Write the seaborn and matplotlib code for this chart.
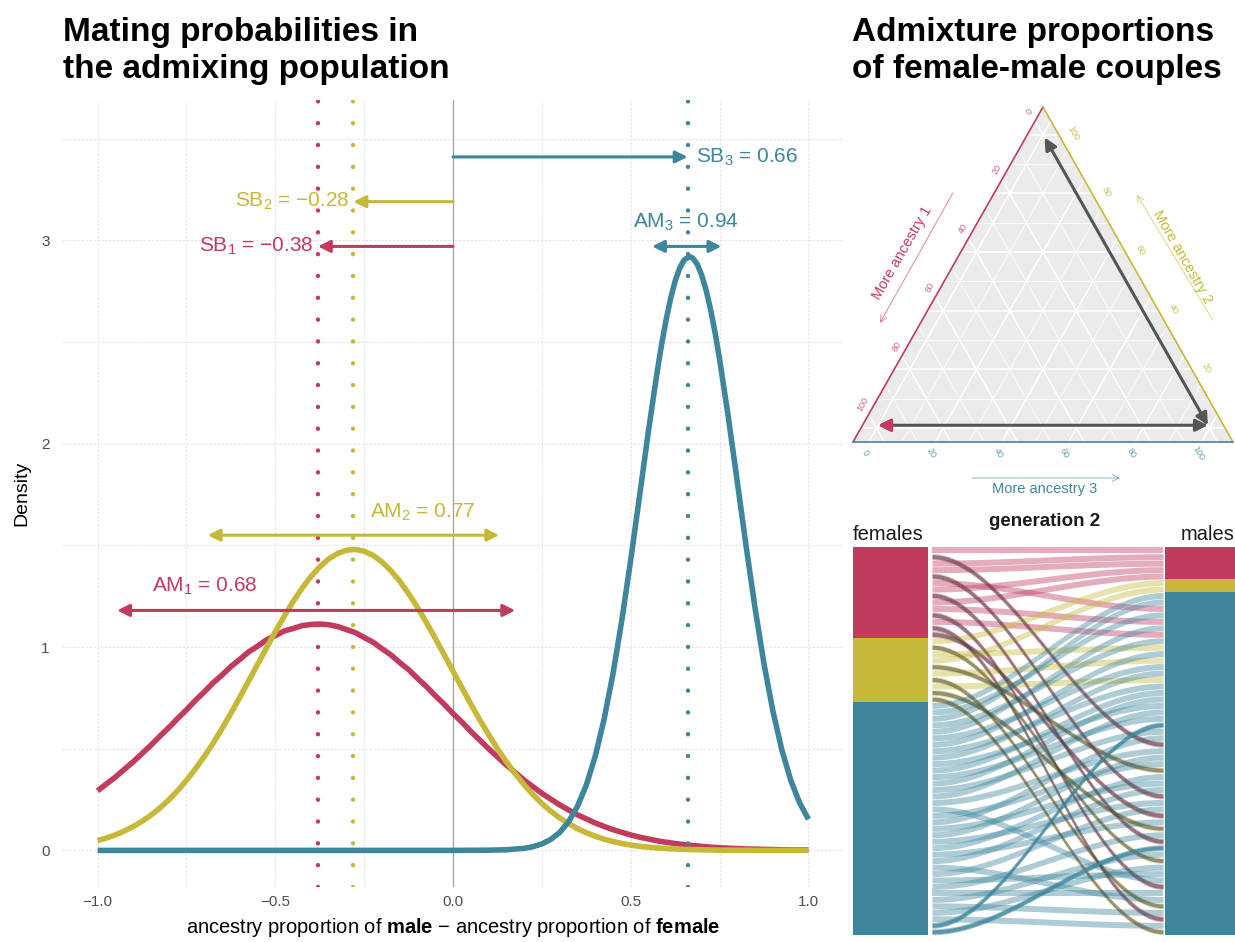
"""
Mating probabilities (densities), ternary admixture plot and alluvial couples plot.
"""

import numpy as np
import matplotlib
matplotlib.use("Agg")
import matplotlib.pyplot as plt
import seaborn as sns

W, H = 1235, 942
RED = "#c13b5e"
YELLOW = "#c8b83a"
TEAL = "#3e869c"
DARK = "#555555"

# --- left panel: densities ---
x_grid = [-1.0, -0.975, -0.95, -0.925, -0.9, -0.875, -0.85, -0.825, -0.8, -0.775,
          -0.75, -0.725, -0.7, -0.675, -0.65, -0.625, -0.6, -0.575, -0.55, -0.525,
          -0.5, -0.475, -0.45, -0.425, -0.4, -0.375, -0.35, -0.325, -0.3, -0.275,
          -0.25, -0.225, -0.2, -0.175, -0.15, -0.125, -0.1, -0.075, -0.05, -0.025,
          0.0, 0.025, 0.05, 0.075, 0.1, 0.125, 0.15, 0.175, 0.2, 0.225,
          0.25, 0.275, 0.3, 0.325, 0.35, 0.375, 0.4, 0.425, 0.45, 0.475,
          0.5, 0.525, 0.55, 0.575, 0.6, 0.625, 0.65, 0.675, 0.7, 0.725,
          0.75, 0.775, 0.8, 0.825, 0.85, 0.875, 0.9, 0.925, 0.95, 0.975, 1.0]
red_density = [0.293, 0.327, 0.360, 0.398, 0.435, 0.476, 0.517, 0.561, 0.603, 0.648,
               0.691, 0.737, 0.779, 0.824, 0.862, 0.904, 0.939, 0.976, 1.004, 1.035,
               1.056, 1.079, 1.091, 1.105, 1.111, 1.113, 1.110, 1.101, 1.086, 1.071,
               1.047, 1.024, 0.992, 0.962, 0.924, 0.889, 0.846, 0.806, 0.761, 0.719,
               0.673, 0.631, 0.585, 0.543, 0.500, 0.460, 0.420, 0.383, 0.346, 0.313,
               0.281, 0.252, 0.224, 0.199, 0.175, 0.155, 0.135, 0.118, 0.102, 0.089,
               0.076, 0.065, 0.056, 0.047, 0.040, 0.034, 0.028, 0.024, 0.020, 0.016,
               0.013, 0.011, 0.009, 0.007, 0.006, 0.005, 0.004, 0.003, 0.002, 0.002, 0.002]
yellow_density = [0.048, 0.061, 0.076, 0.095, 0.117, 0.143, 0.173, 0.208, 0.248, 0.293,
                  0.344, 0.400, 0.461, 0.527, 0.599, 0.674, 0.752, 0.833, 0.914, 0.995,
                  1.075, 1.151, 1.223, 1.288, 1.346, 1.394, 1.433, 1.460, 1.476, 1.480,
                  1.471, 1.451, 1.419, 1.376, 1.324, 1.263, 1.195, 1.121, 1.043, 0.963,
                  0.881, 0.800, 0.720, 0.643, 0.570, 0.500, 0.436, 0.377, 0.323, 0.274,
                  0.231, 0.193, 0.160, 0.132, 0.107, 0.087, 0.070, 0.055, 0.044, 0.034,
                  0.026, 0.020, 0.016, 0.012, 0.009, 0.007, 0.005, 0.004, 0.003, 0.002,
                  0.001, 0.001, 0.001, 0.001, 0.0, 0.0, 0.0, 0.0, 0.0, 0.0, 0.0]
teal_x = [-1.0, 0.0, 0.1, 0.15, 0.2, 0.225, 0.25, 0.275, 0.3, 0.325, 0.35, 0.375,
          0.4, 0.425, 0.45, 0.475, 0.5, 0.525, 0.55, 0.575, 0.5875, 0.6, 0.6125, 0.625,
          0.6375, 0.65, 0.665, 0.675, 0.6875, 0.7, 0.7125, 0.725, 0.7375, 0.75, 0.775,
          0.8, 0.825, 0.85, 0.875, 0.9, 0.925, 0.95, 0.975, 1.0]
teal_density = [0.0, 0.0, 0.001, 0.003, 0.010, 0.018, 0.032, 0.054, 0.088, 0.140, 0.216, 0.321,
                0.462, 0.644, 0.868, 1.132, 1.429, 1.745, 2.064, 2.361, 2.494, 2.613, 2.716, 2.800,
                2.862, 2.903, 2.92, 2.912, 2.881, 2.827, 2.752, 2.657, 2.544, 2.415, 2.125,
                1.810, 1.491, 1.189, 0.917, 0.685, 0.495, 0.346, 0.234, 0.153]

sb_values = [-0.38, -0.28, 0.66]
sb_labels = ["SB$_1$ = \u22120.38", "SB$_2$ = \u22120.28", "SB$_3$ = 0.66"]
am_labels = ["AM$_1$ = 0.68", "AM$_2$ = 0.77", "AM$_3$ = 0.94"]
am_left = [-0.945, -0.69, 0.56]
am_right = [0.175, 0.13, 0.755]

# --- ternary panel: couple ancestry (percent) ---
ancestry1 = [0, 0, 99]
ancestry2 = [99, 1, 1]
ancestry3 = [1, 99, 0]

# --- alluvial panel: generation 2 couples ---
female_counts = [14, 10, 36]
male_counts = [5, 2, 53]
partner = [0, 30, 1, 2, 38, 9, 3, 45, 4, 11, 52, 13, 57, 41,
           5, 48, 15, 6, 34, 17, 55, 20, 43, 59,
           7, 10, 8, 14, 12, 18, 16, 21, 19, 24, 22, 26, 23, 28, 25, 31, 51, 33,
           29, 36, 32, 39, 35, 42, 37, 54, 40, 50, 44, 53, 47, 56, 49, 58, 27, 46]
dark_teal_females = [58, 59]


def px_axes(fig, left, top, right, bottom):
    return fig.add_axes([left / W, 1 - bottom / H, (right - left) / W, (bottom - top) / H])


sns.set_theme(style="white")
plt.rcParams["font.family"] = ["Liberation Sans", "DejaVu Sans"]
plt.rcParams["mathtext.fontset"] = "custom"
plt.rcParams["mathtext.rm"] = "Liberation Sans"
plt.rcParams["mathtext.it"] = "Liberation Sans:italic"
plt.rcParams["mathtext.bf"] = "Liberation Sans:bold"

fig = plt.figure(figsize=(W / 100, H / 100), dpi=100)
colors = [RED, YELLOW, TEAL]

# ---------------- left panel ----------------
ax = px_axes(fig, 62, 100, 844, 887)
for v in [-1, -0.75, -0.5, -0.25, 0.25, 0.5, 0.75, 1.0]:
    ax.axvline(v, color="#e4e4e4", lw=0.8, ls=(0, (2, 1.5)), zorder=0)
for v in [0, 0.5, 1, 1.5, 2, 2.5, 3, 3.5]:
    ax.axhline(v, color="#e4e4e4", lw=0.8, ls=(0, (2, 1.5)), zorder=0)
ax.axvline(0, color="#a0a0a0", lw=0.9, zorder=1)

line_kw = dict(linewidth=4, solid_joinstyle="round", solid_capstyle="butt", zorder=3)
sns.lineplot(x=x_grid, y=red_density, color=RED, ax=ax, **line_kw)
sns.lineplot(x=x_grid, y=yellow_density, color=YELLOW, ax=ax, **line_kw)
sns.lineplot(x=teal_x, y=teal_density, color=TEAL, ax=ax, **line_kw)

for val, c in zip(sb_values, colors):
    ax.axvline(val, color=c, lw=3.2, ls=(0, (0.01, 4.9)), dash_capstyle="round", zorder=4)

sb_heights = [2.97, 3.19, 3.41]
head = "-|>,head_length=0.6,head_width=0.3"
for val, y, c, lab in zip(sb_values, sb_heights, colors, sb_labels):
    ax.annotate("", xy=(val, y), xytext=(0, y),
                arrowprops=dict(arrowstyle=head, color=c, lw=2.2, shrinkA=0, shrinkB=0), zorder=5)
    if val < 0:
        ax.text(val - 0.012, y, lab, ha="right", va="center", color=c, fontsize=15, zorder=6)
    else:
        ax.text(val + 0.025, y, lab, ha="left", va="center", color=c, fontsize=15, zorder=6)

am_heights = [1.18, 1.55, 2.97]
am_text_pos = [(-0.848, 1.30, "left"), (-0.234, 1.66, "left"), (0.655, 3.09, "center")]
both = "<|-|>,head_length=0.6,head_width=0.3"
for lo, hi, y, c, lab, (tx, ty, ha) in zip(am_left, am_right, am_heights, colors, am_labels, am_text_pos):
    ax.annotate("", xy=(hi, y), xytext=(lo, y),
                arrowprops=dict(arrowstyle=both, color=c, lw=2.2, shrinkA=0, shrinkB=0), zorder=5)
    ax.text(tx, ty, lab, ha=ha, va="center", color=c, fontsize=15, zorder=6)

ax.set_xlim(-1.1, 1.1)
ax.set_ylim(-0.18, 3.69)
ax.set_xticks([-1, -0.5, 0, 0.5, 1])
ax.set_xticklabels(["\u22121.0", "\u22120.5", "0.0", "0.5", "1.0"])
ax.set_yticks([0, 1, 2, 3])
ax.set_yticklabels(["0", "1", "2", "3"])
ax.tick_params(length=0, labelsize=11, labelcolor="#4d4d4d", pad=6)
ax.tick_params(axis="y", pad=9)
for s in ax.spines.values():
    s.set_visible(False)
ax.set_ylabel("Density", fontsize=14, color="black", labelpad=8)
ax.set_xlabel("ancestry proportion of $\\mathbf{male}$ \u2212 ancestry proportion of $\\mathbf{female}$",
              fontsize=14.5, color="black", labelpad=5)

fig.text(63 / W, 1 - 17 / H, "Mating probabilities in\nthe admixing population",
         fontsize=24, fontweight="bold", va="top", ha="left", linespacing=1.25, color="black")
fig.text(852 / W, 1 - 17 / H, "Admixture proportions\nof female-male couples",
         fontsize=24, fontweight="bold", va="top", ha="left", linespacing=1.25, color="black")

# ---------------- ternary panel ----------------
SQ3 = np.sqrt(3) / 2
PAD = 4.7
SPAN = 100 + 3 * PAD


def tern_xy(a1, a2, a3):
    f2 = (a2 + PAD) / SPAN
    f3 = (a3 + PAD) / SPAN
    return f3 + f2 / 2, f2 * SQ3


axt = px_axes(fig, 853, 107, 1233, 442)
axt.set_xlim(0, 1)
axt.set_ylim(0, SQ3)
axt.axis("off")
axt.fill([0, 1, 0.5], [0, 0, SQ3], color="#ebebeb", lw=0, zorder=0)
for c in range(0, 101, 10):
    lw = 1.1 if c % 20 == 0 else 0.5
    lines = [
        (tern_xy(c, 100 + PAD - c, -PAD), tern_xy(c, -PAD, 100 + PAD - c)),
        (tern_xy(100 + PAD - c, c, -PAD), tern_xy(-PAD, c, 100 + PAD - c)),
        (tern_xy(100 + PAD - c, -PAD, c), tern_xy(-PAD, 100 + PAD - c, c)),
    ]
    for p, q in lines:
        axt.plot([p[0], q[0]], [p[1], q[1]], color="white", lw=lw, zorder=1)

axt.plot([0, 0.5], [0, SQ3], color=RED, lw=1.2, zorder=2, clip_on=False)
axt.plot([1, 0.5], [0, SQ3], color=YELLOW, lw=1.2, zorder=2, clip_on=False)
axt.plot([0, 1], [0, 0], color=TEAL, lw=1.2, zorder=2, clip_on=False)

for c in range(0, 101, 20):
    x, y = tern_xy(c, 100 + PAD - c, -PAD)
    axt.text(x - 0.014, y + 0.025, str(c), color=RED, alpha=0.8, fontsize=6.5,
             rotation=60, ha="center", va="center", clip_on=False)
    if c > 0:
        x, y = tern_xy(-PAD, c, 100 + PAD - c)
        axt.text(x + 0.038, y + 0.004, str(c), color=YELLOW, alpha=0.9, fontsize=6.5,
                 rotation=-60, ha="center", va="center", clip_on=False)
    x, y = tern_xy(100 + PAD - c, -PAD, c)
    axt.text(x - 0.01, y - 0.028, str(c), color=TEAL, alpha=0.8, fontsize=6.5,
             rotation=-60, ha="center", va="center", clip_on=False)

thin = dict(arrowstyle="->,head_length=0.4,head_width=0.2", lw=0.7, shrinkA=0, shrinkB=0, alpha=0.6)
axt.annotate("", xy=(0.071, 0.308), xytext=(0.263, 0.644),
             arrowprops=dict(color=RED, **thin), annotation_clip=False)
axt.text(0.13, 0.49, "More ancestry 1", color=RED, fontsize=10.5, rotation=60,
         ha="center", va="center", clip_on=False)
axt.annotate("", xy=(0.747, 0.639), xytext=(0.947, 0.315),
             arrowprops=dict(color=YELLOW, **thin), annotation_clip=False)
axt.text(0.868, 0.478, "More ancestry 2", color=YELLOW, fontsize=10.5, rotation=-60,
         ha="center", va="center", clip_on=False)
axt.annotate("", xy=(0.703, -0.093), xytext=(0.313, -0.093),
             arrowprops=dict(color=TEAL, **thin), annotation_clip=False)
axt.text(0.505, -0.122, "More ancestry 3", color=TEAL, fontsize=10.5,
         ha="center", va="center", clip_on=False)

pts = [tern_xy(a, b, c) for a, b, c in zip(ancestry1, ancestry2, ancestry3)]
dbl = "<|-|>,head_length=0.6,head_width=0.3"
axt.annotate("", xy=pts[0], xytext=pts[1],
             arrowprops=dict(arrowstyle=dbl, color=DARK, lw=2.2, shrinkA=0, shrinkB=0), zorder=5)
axt.annotate("", xy=pts[2], xytext=pts[1],
             arrowprops=dict(arrowstyle=dbl, color=DARK, lw=2.2, shrinkA=0, shrinkB=0), zorder=5)
axt.annotate("", xy=pts[2], xytext=(pts[2][0] + 0.03, pts[2][1]),
             arrowprops=dict(arrowstyle="-|>,head_length=0.6,head_width=0.3", color=RED, lw=2.2,
                             shrinkA=0, shrinkB=0), zorder=6)

# ---------------- alluvial panel ----------------
axa = px_axes(fig, 853, 547, 1235, 935)
HA = 388.0
axa.set_xlim(0, 382)
axa.set_ylim(HA, 0)
axa.axis("off")

n = sum(female_counts)
slot = HA / n
for counts, x0, x1 in [(female_counts, 0, 75), (male_counts, 312, 382)]:
    top = 0.0
    for cnt, c in zip(counts, colors):
        axa.fill_between([x0, x1], top, top + cnt * slot, color=c, lw=0)
        top += cnt * slot

female_group = []
for g, cnt in enumerate(female_counts):
    female_group += [g] * cnt
male_group = []
for g, cnt in enumerate(male_counts):
    male_group += [g] * cnt

xf = np.linspace(79, 310, 80)
t = (xf - 79) / 231
s = t * t * (3 - 2 * t)
gap = 0.25
strands = []
for i, j in enumerate(partner):
    ft, fb = i * slot + gap, (i + 1) * slot - gap
    mt, mb = j * slot + gap, (j + 1) * slot - gap
    top = ft + (mt - ft) * s
    bot = fb + (mb - fb) * s
    g = female_group[i]
    axa.fill_between(xf, top, bot, color=colors[g], alpha=0.42, lw=0, zorder=1)
    if g < 2 and male_group[j] == 2 and j >= 21:
        strands.append((top, bot, "#3f3f3f", 0.5))
    elif i in dark_teal_females:
        strands.append((top, bot, TEAL, 0.75))
for top, bot, c, a in strands:
    axa.fill_between(xf, top + 1.0, bot - 1.0, color=c, alpha=a, lw=0, zorder=2)

axa.text(0, -12, "females", fontsize=14.5, ha="left", va="center", color="#1a1a1a", clip_on=False)
axa.text(382, -12, "males", fontsize=14.5, ha="right", va="center", color="#1a1a1a", clip_on=False)
axa.text(192, -25, "generation 2", fontsize=13.5, fontweight="bold", ha="center", va="center",
         color="#1a1a1a", clip_on=False)

fig.savefig("out.png", dpi=100)
